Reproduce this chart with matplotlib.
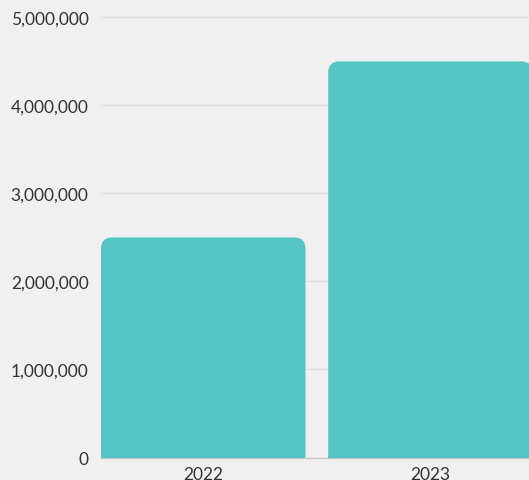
import numpy as np
import matplotlib
matplotlib.use('Agg')
import matplotlib.pyplot as plt
import matplotlib as mpl
from matplotlib.patches import FancyBboxPatch
from matplotlib.ticker import FuncFormatter

years = ['2022', '2023']
values = [2500000, 4500000]
yticks = [0, 1000000, 2000000, 3000000, 4000000, 5000000]

mpl.rcParams["font.family"] = ["Lato", "DejaVu Sans"]
mpl.rcParams["font.size"] = 12

bg = '#f0f0f0'
barColor = '#56c4c4'

fig = plt.figure(figsize=(5.29, 4.81), dpi=100, facecolor=bg)
ax = fig.add_axes([101 / 529, (481 - 458.5) / 481, 1 - 101 / 529, 458.5 / 481])
ax.set_facecolor(bg)

x = np.arange(len(years))
width = 0.9
ax.set_xlim(-0.45, 1.434)
ax.set_ylim(0, 5.21e6)

# rounded top corners: radius about 11 px in both directions
rx = 11 / 227.0
ry = 11 / 88.0 * 1e6
for xi, v in zip(x, values):
    patch = FancyBboxPatch((xi - width / 2, -2 * ry), width, v + 2 * ry,
                           boxstyle="round,pad=0,rounding_size=%f" % rx,
                           mutation_aspect=ry / rx, facecolor=barColor,
                           edgecolor='none', zorder=3)
    ax.add_patch(patch)

ax.set_yticks(yticks)
ax.yaxis.set_major_formatter(FuncFormatter(lambda v, p: '{:,.0f}'.format(v)))
ax.set_xticks(x)
ax.set_xticklabels(years)
ax.grid(axis='y', color='#dedede', linewidth=1, zorder=0)
ax.grid(axis='x', visible=False)
ax.tick_params(axis='both', length=0, colors='#333333', labelsize=12.5)
ax.tick_params(axis='y', pad=9)
ax.tick_params(axis='x', pad=6)
for s in ['top', 'right', 'left']:
    ax.spines[s].set_visible(False)
ax.spines['bottom'].set_color('#c8c8c8')
ax.spines['bottom'].set_linewidth(1)

fig.savefig('out.png', dpi=100, facecolor=bg)
